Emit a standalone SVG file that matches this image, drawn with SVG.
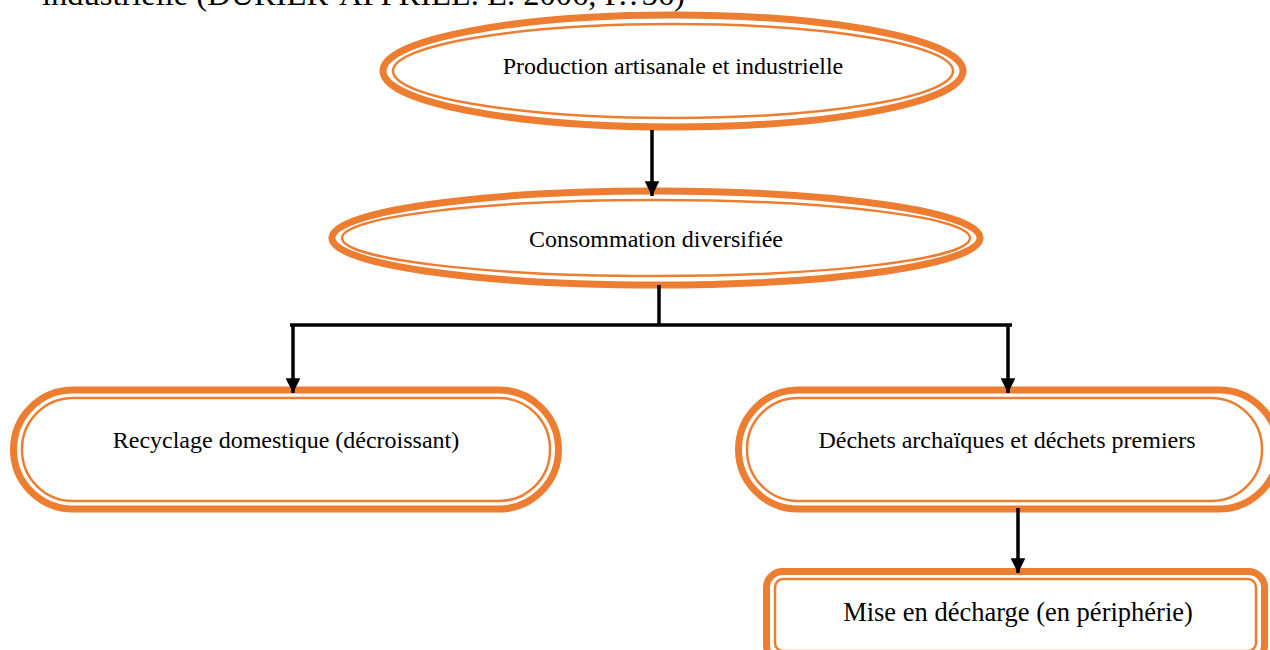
<svg xmlns="http://www.w3.org/2000/svg" width="1270" height="650" viewBox="0 0 1270 650">
<defs>
<style>
.outer{fill:#fff;stroke:#ED7D31;stroke-width:7}
.inner{fill:none;stroke:#ED7D31;stroke-width:2.5}
.t{font-family:"Liberation Serif","Times New Roman",serif;font-size:24px;fill:#000;text-anchor:middle}
.ln{stroke:#000;stroke-width:3.5;fill:none}
</style>
<marker id="ah" viewBox="0 0 10 10" refX="10" refY="5" markerWidth="4.2" markerHeight="4.2" orient="auto" markerUnits="strokeWidth">
<path d="M0,0 L10,5 L0,10 z" fill="#000"/>
</marker>
</defs>
<rect width="1270" height="650" fill="#fff"/>
<text x="42" y="5" style="font-family:'Liberation Serif','Times New Roman',serif;font-size:32.5px;fill:#000">industrielle (DURIER-APPRIEL. E. 2006, P.?56)</text>

<g id="n1">
<ellipse class="outer" cx="673" cy="71" rx="290" ry="56"/>
<ellipse class="inner" cx="673" cy="71" rx="280" ry="47"/>
<text class="t" x="673" y="74">Production artisanale et industrielle</text>
</g>

<g id="n2">
<ellipse class="outer" cx="656" cy="238" rx="324" ry="47"/>
<ellipse class="inner" cx="656" cy="238" rx="314" ry="38"/>
<text class="t" x="656" y="247">Consommation diversifiée</text>
</g>

<g id="n3">
<rect class="outer" x="13.5" y="390" width="545" height="119" rx="59.5"/>
<rect class="inner" x="22" y="398" width="528" height="103" rx="51"/>
<text class="t" x="286" y="448">Recyclage domestique (décroissant)</text>
</g>

<g id="n4">
<rect class="outer" x="738.5" y="390" width="540" height="119" rx="59.5"/>
<rect class="inner" x="747" y="398" width="515" height="103" rx="51"/>
<text class="t" x="1007" y="448">Déchets archaïques et déchets premiers</text>
</g>

<g id="n5">
<rect class="outer" x="766.5" y="571.5" width="498" height="90" rx="16"/>
<rect class="inner" x="775" y="579" width="481" height="72" rx="8"/>
<text class="t" x="1018" y="621" style="font-size:26.5px">Mise en décharge (en périphérie)</text>
</g>

<g id="connectors">
<path class="ln" d="M652,130 V196" marker-end="url(#ah)"/>
<path class="ln" d="M659,285 V325"/>
<path class="ln" d="M290,325 H1012"/>
<path class="ln" d="M293,325 V393" marker-end="url(#ah)"/>
<path class="ln" d="M1008,325 V393" marker-end="url(#ah)"/>
<path class="ln" d="M1018,508 V573" marker-end="url(#ah)"/>
</g>
</svg>
